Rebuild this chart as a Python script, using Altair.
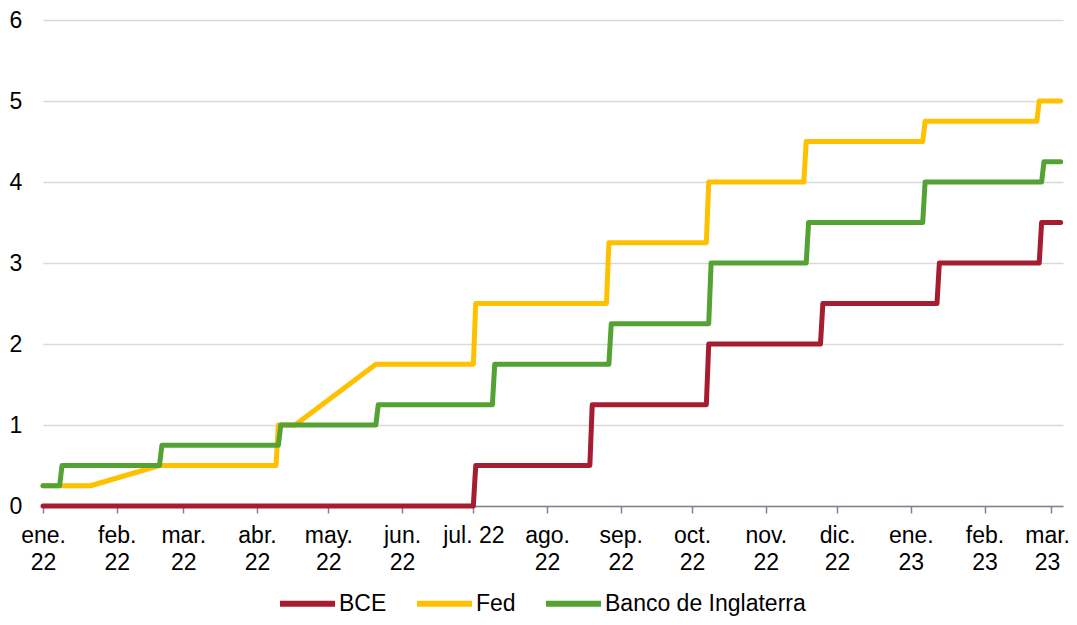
import json
import altair as alt
import pandas as pd

# ---- data ----
series_names = ["BCE", "Fed", "Banco de Inglaterra"]
series_colors = ["#A61C31", "#FFC000", "#54A233"]

bce_dates = ["2022-01-01", "2022-07-01", "2022-07-02", "2022-08-19", "2022-08-20",
             "2022-10-07", "2022-10-08", "2022-11-24", "2022-11-25", "2023-01-12",
             "2023-01-13", "2023-02-24", "2023-02-25", "2023-03-05"]
bce_values = [0, 0, 0.5, 0.5, 1.25, 1.25, 2.0, 2.0, 2.5, 2.5, 3.0, 3.0, 3.5, 3.5]

fed_dates = ["2022-01-01", "2022-01-21", "2022-02-19", "2022-04-09", "2022-04-10",
             "2022-04-17", "2022-05-21", "2022-07-01", "2022-07-02", "2022-08-26",
             "2022-08-27", "2022-10-07", "2022-10-08", "2022-11-17", "2022-11-18",
             "2023-01-06", "2023-01-07", "2023-02-23", "2023-02-24", "2023-03-05"]
fed_values = [0.25, 0.25, 0.5, 0.5, 1.0, 1.0, 1.75, 1.75, 2.5, 2.5,
              3.25, 3.25, 4.0, 4.0, 4.5, 4.5, 4.75, 4.75, 5.0, 5.0]

boe_dates = ["2022-01-01", "2022-01-08", "2022-01-09", "2022-02-19", "2022-02-20",
             "2022-04-10", "2022-04-11", "2022-05-21", "2022-05-22", "2022-07-09",
             "2022-07-10", "2022-08-27", "2022-08-28", "2022-10-08", "2022-10-09",
             "2022-11-18", "2022-11-19", "2023-01-06", "2023-01-07", "2023-02-25",
             "2023-02-26", "2023-03-05"]
boe_values = [0.25, 0.25, 0.5, 0.5, 0.75, 0.75, 1.0, 1.0, 1.25, 1.25,
              1.75, 1.75, 2.25, 2.25, 3.0, 3.0, 3.5, 3.5, 4.0, 4.0, 4.25, 4.25]

# x tick positions (month starts) and their labels
tick_months = [(2022, m) for m in range(1, 13)] + [(2023, 1), (2023, 2), (2023, 3)]
tick_labels = [["ene.", "22"], ["feb.", "22"], ["mar.", "22"], ["abr.", "22"],
               ["may.", "22"], ["jun.", "22"], ["jul. 22"], ["ago.", "22"],
               ["sep.", "22"], ["oct.", "22"], ["nov.", "22"], ["dic.", "22"],
               ["ene.", "23"], ["feb.", "23"], ["mar.", "23"]]
y_ticks = [0, 1, 2, 3, 4, 5, 6]

# ---- build table ----
frames = []
for name, d, v in zip(series_names, [bce_dates, fed_dates, boe_dates],
                      [bce_values, fed_values, boe_values]):
    frames.append(pd.DataFrame({"fecha": pd.to_datetime(d), "valor": v, "serie": name}))
df = pd.concat(frames, ignore_index=True)

label_expr = (json.dumps(tick_labels, ensure_ascii=False)
              + "[(year(datum.value)-2022)*12+month(datum.value)]")

FONT = "Liberation Sans"

chart = alt.Chart(df).mark_line(
    strokeWidth=5, strokeCap="round", strokeJoin="round"
).encode(
    x=alt.X(
        "fecha:T",
        scale=alt.Scale(domain=[alt.DateTime(year=2022, month=1, date=1),
                                alt.DateTime(year=2023, month=3, date=6)]),
        axis=alt.Axis(
            values=[alt.DateTime(year=y, month=m, date=1) for y, m in tick_months],
            labelExpr=label_expr,
            title=None, grid=False,
            domainColor="#80808F", domainWidth=1.5,
            tickColor="#80808F", tickWidth=1.5, tickSize=7,
            labelPadding=11.5, labelFontSize=23, labelLineHeight=27.3,
            labelColor="black", labelFont=FONT,
            labelFlush=False, labelOverlap=False, labelBound=False,
            labelOffset={"condition": {"test": "year(datum.value)==2023 && month(datum.value)==2",
                                       "value": -4},
                         "value": 0},
            zindex=0,
        ),
    ),
    y=alt.Y(
        "valor:Q",
        scale=alt.Scale(domain=[0, 6], nice=False),
        axis=alt.Axis(
            values=y_ticks, format="d", title=None,
            grid=True, gridColor="#D9D9D9", gridWidth=1.5,
            domain=False, ticks=False,
            labelPadding=21.3, labelFontSize=23, labelColor="black", labelFont=FONT,
            zindex=0,
        ),
    ),
    color=alt.Color(
        "serie:N",
        scale=alt.Scale(domain=series_names, range=series_colors),
        legend=alt.Legend(
            orient="none", legendX=234, legendY=553, direction="horizontal",
            title=None, symbolType="stroke", symbolSize=3025, symbolStrokeWidth=6,
            labelFontSize=23, labelFont=FONT, labelColor="black", labelOffset=1,
            labelLimit=500, columnPadding=18, padding=0,
        ),
    ),
).properties(
    width=1020, height=486,
    autosize=alt.AutoSizeParams(type="none"),
    padding={"left": 35, "top": 12, "right": 6, "bottom": 111},
).configure_view(stroke=None)

chart.save("out.html", embed_options={"renderer": "svg", "actions": False})
